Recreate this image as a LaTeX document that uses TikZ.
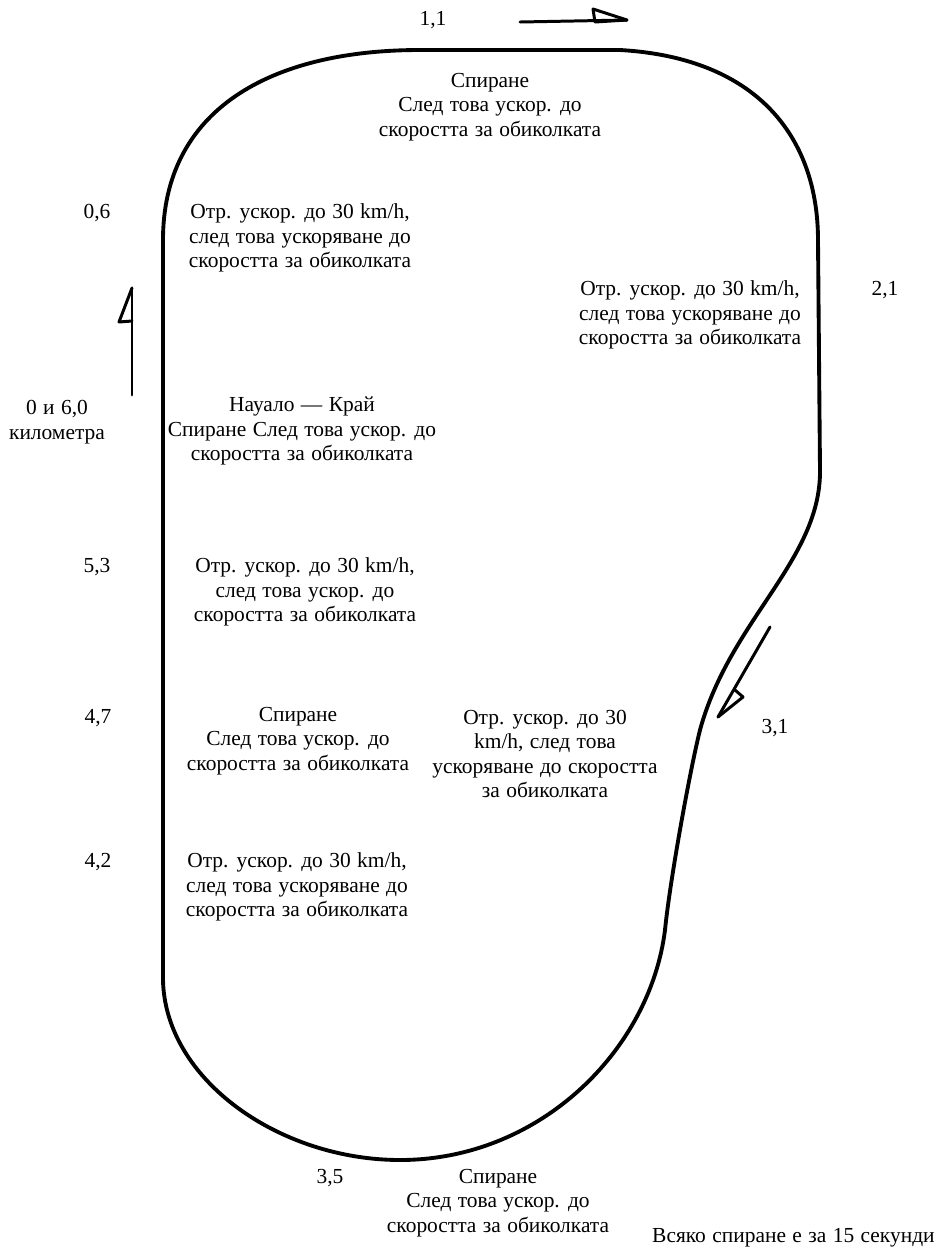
\documentclass[tikz,border=0pt]{standalone}
\usepackage{fontspec}
\setmainfont{Liberation Serif}
\newcommand{\lblfont}{\fontsize{12.2}{13.9}\selectfont\spaceskip=0.3em plus 0.1em\relax}
\begin{document}
\begin{tikzpicture}[x=0.02cm,y=-0.02cm,
		lbl/.style={align=center,font=\lblfont,inner sep=0pt},
		track/.style={line width=2.2pt,line join=round},
		arr/.style={line width=1.7pt,line join=round,line cap=round}]
		\useasboundingbox (0,0) rectangle (940,1249);
		% the lap
		\draw[track] (420,50) -- (620,50) .. controls (760,58) and (818,140) .. (818,240)
			-- (820,470) .. controls (821,560) and (730,620) .. (700,730)
			.. controls (690,770) and (670,880) .. (665,930)
			.. controls (650,1050) and (540,1160) .. (400,1160)
			.. controls (280,1160) and (165,1080) .. (163,980)
			-- (163,240) .. controls (163,110) and (270,50) .. (420,50) -- cycle;
		% direction arrows
		\coordinate (top1) at (520,22);
		\coordinate (top2) at (627,20);
		\draw[arr] (top1) -- (top2);
		\draw[arr] (593,9) -- (top2) -- (595,22) -- cycle;
		\coordinate (left1) at (132,395);
		\coordinate (left2) at (132,288);
		\draw[arr] (left1) -- (left2);
		\draw[arr] (left2) -- (119,322) -- (132,321);
		\coordinate (right1) at (770,627);
		\coordinate (right2) at (718,717);
		\draw[arr] (right1) -- (right2);
		\draw[arr] (right2) -- (743,697) -- (735,690);
		% kilometres
		\node[lbl] (k11) at (433,20) {1,1};
		\node[lbl] (k06) at (97,213) {0,6};
		\node[lbl] (k21) at (885,290) {2,1};
		\node[lbl] (k00) at (57,422) {0 и 6,0\\километра};
		\node[lbl] (k53) at (97,567) {5,3};
		\node[lbl] (k47) at (98,718) {4,7};
		\node[lbl] (k31) at (775,728) {3,1};
		\node[lbl] (k42) at (98,862) {4,2};
		\node[lbl] (k35) at (330,1178) {3,5};
		% instructions
		\node[lbl] (topbox) at (490,107) {Спиране\\След това ускор. до\\скоростта за обиколката};
		\node[lbl] (boxA) at (300,238) {Отр. ускор. до 30 km/h,\\след това ускоряване до\\скоростта за обиколката};
		\node[lbl] (boxB) at (690,315) {Отр. ускор. до 30 km/h,\\след това ускоряване до\\скоростта за обиколката};
		\node[lbl] (start) at (302,431) {Науало — Край\\Спиране След това ускор. до\\скоростта за обиколката};
		\node[lbl] (boxC) at (305,592) {Отр. ускор. до 30 km/h,\\след това ускор. до\\скоростта за обиколката};
		\node[lbl] (boxD) at (298,741) {Спиране\\След това ускор. до\\скоростта за обиколката};
		\node[lbl] (boxE) at (545,754) {Отр. ускор. до 30\\km/h, след това\\ускоряване до скоростта\\за обиколката};
		\node[lbl] (boxF) at (297,887) {Отр. ускор. до 30 km/h,\\след това ускоряване до\\скоростта за обиколката};
		\node[lbl] (botbox) at (498,1203) {Спиране\\След това ускор. до\\скоростта за обиколката};
		\node[lbl,anchor=east] (note) at (935,1238) {Всяко спиране е за 15 секунди};
		\end{tikzpicture}
\end{document}
